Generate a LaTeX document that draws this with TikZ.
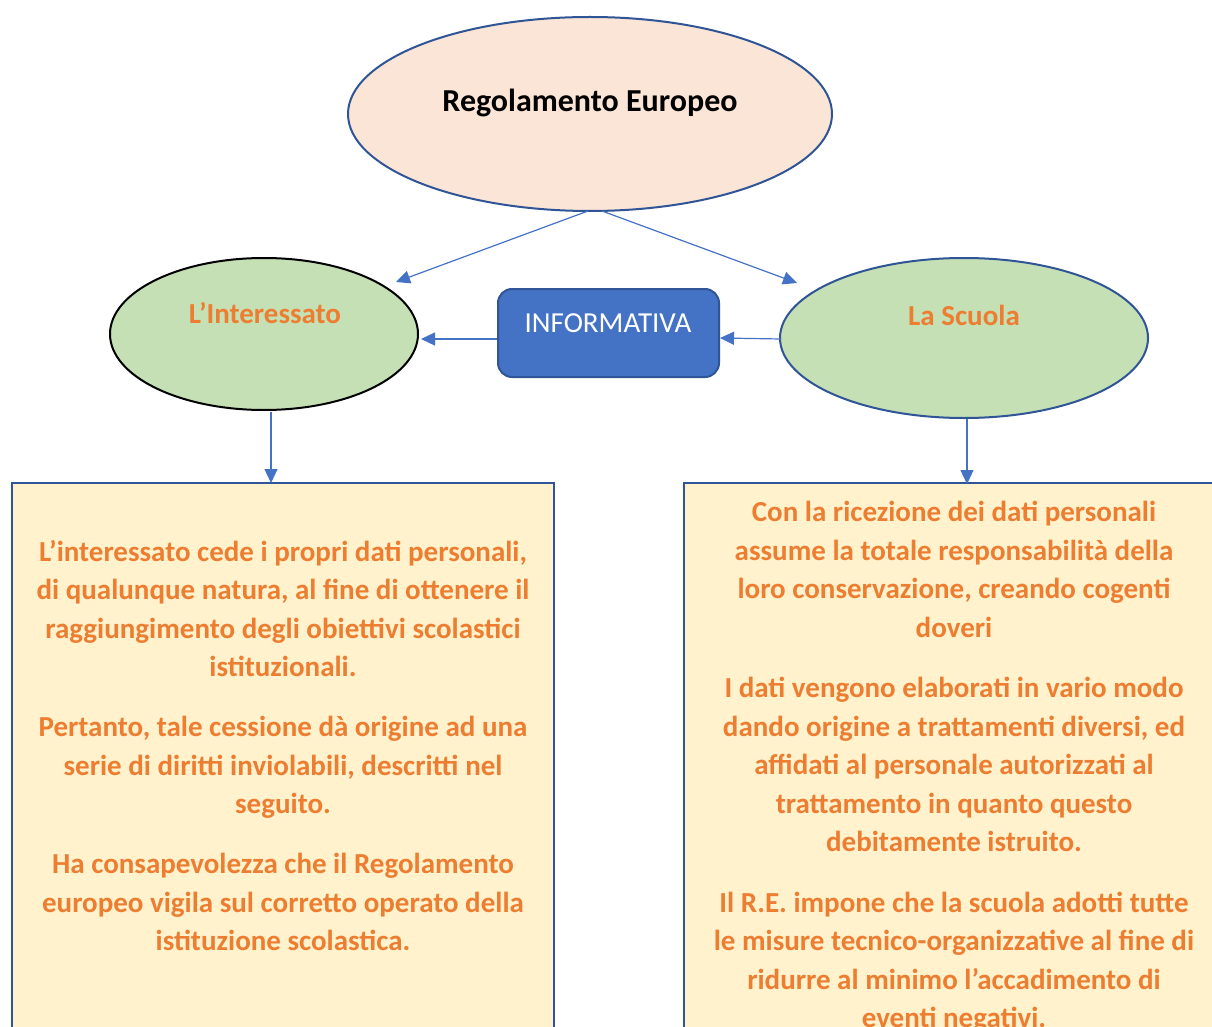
\documentclass[tikz,border=0pt]{standalone}
\usepackage{fontspec}
\setmainfont{Carlito}
\usetikzlibrary{arrows.meta,shapes.geometric}
\definecolor{peach}{HTML}{FBE5D6}
\definecolor{lgreen}{HTML}{C5E0B4}
\definecolor{lyellow}{HTML}{FFF2CC}
\definecolor{accblue}{HTML}{4472C4}
\definecolor{darkblue}{HTML}{2F5597}
\definecolor{orangetxt}{HTML}{ED7D31}
\tikzset{
  oval/.style={ellipse, draw, line width=2pt, inner sep=0pt},
  textbox/.style={draw=darkblue, fill=lyellow, line width=2pt},
  conn/.style={draw=accblue, line width=1.2pt, -{Triangle[length=14pt,width=13pt]}},
  bodytext/.style={align=center, inner sep=0pt, text=orangetxt,
    font=\fontsize{29}{38.5}\selectfont\bfseries},
  labeltext/.style={font=\fontsize{29}{34}\selectfont\bfseries, text=orangetxt},
}
\begin{document}
\begin{tikzpicture}[x=1pt,y=-1pt]
\useasboundingbox (0,0) rectangle (1212,1027);
\clip (0,0) rectangle (1212,1027);
\fill[white] (0,0) rectangle (1212,1027);
% ellipses
\node[oval, draw=darkblue, fill=peach, minimum width=484pt, minimum height=194pt] (reg) at (590,114) {};
\node[font=\fontsize{32}{38}\selectfont\bfseries] (regt) at (590,103) {Regolamento Europeo};
\node[oval, draw=black, fill=lgreen, minimum width=308pt, minimum height=152pt] (int) at (264,334) {};
\node[labeltext] (intt) at (265,313) {L’Interessato};
\node[oval, draw=darkblue, fill=lgreen, minimum width=368pt, minimum height=160pt] (scu) at (964,338) {};
\node[labeltext] (scut) at (964,315) {La Scuola};
% informativa
\node[draw=darkblue, fill=accblue, line width=2pt, rounded corners=14pt, minimum width=221pt, minimum height=88pt, inner sep=0pt] (inf) at (608.5,333) {};
\node[text=white, font=\fontsize{29}{34}\selectfont] (inft) at (608,323) {INFORMATIVA};
% text boxes
\draw[textbox] (12,483) rectangle (554,1060);
\coordinate (lbt) at (271,483);
\draw[textbox] (684,483) rectangle (1240,1060);
\coordinate (rbt) at (967,484);
\node[bodytext, anchor=north] (ltext) at (283,540) {L’interessato cede i propri dati personali,\\
di qualunque natura, al fine di ottenere il\\
raggiungimento degli obiettivi scolastici\\
istituzionali.\\[21.5pt]
Pertanto, tale cessione dà origine ad una\\
serie di diritti inviolabili, descritti nel\\
seguito.\\[21.5pt]
Ha consapevolezza che il Regolamento\\
europeo vigila sul corretto operato della\\
istituzione scolastica.};
\node[bodytext, anchor=north] (rtext) at (954,501) {Con la ricezione dei dati personali\\
assume la totale responsabilità della\\
loro conservazione, creando cogenti\\
doveri\\[22pt]
I dati vengono elaborati in vario modo\\
dando origine a trattamenti diversi, ed\\
affidati al personale autorizzati al\\
trattamento in quanto questo\\
debitamente istruito.\\[22pt]
Il R.E. impone che la scuola adotti tutte\\
le misure tecnico-organizzative al fine di\\
ridurre al minimo l’accadimento di\\
eventi negativi.};
% connectors
\coordinate (rs1) at (588,211);
\coordinate (rs2) at (602,211);
\draw[conn] (rs1) -- (396,282);
\draw[conn] (rs2) -- (797,283);
\draw[conn] (inf.west |- 0,339) -- (421,339);
\draw[conn] (781,339) -- (inf.east |- 0,338);
\draw[conn] (271,412) -- (lbt);
\draw[conn] (967,419) -- (rbt);
\end{tikzpicture}
\end{document}
